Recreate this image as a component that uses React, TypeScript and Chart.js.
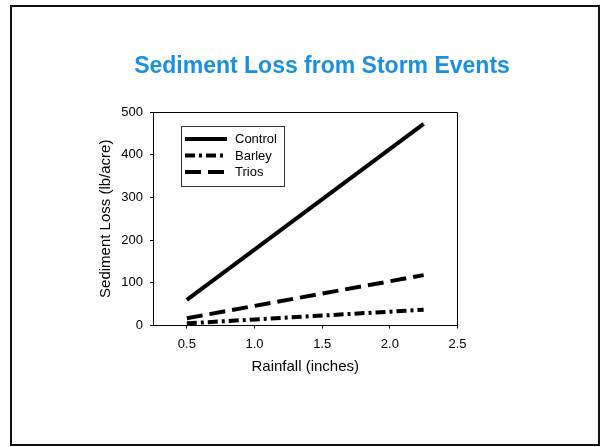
import { useEffect, useRef } from "react";
import { Chart, registerables } from "chart.js";

Chart.register(...registerables);

// ---- data ----
const rainfall = [0.5, 2.25];
const control = [60, 472];
const barley = [5, 37];
const trios = [17, 118];
const seriesNames = ["Control", "Barley", "Trios"];
const xTicks = [0.5, 1.0, 1.5, 2.0, 2.5];
const yTicks = [0, 100, 200, 300, 400, 500];
const chartTitle = "Sediment Loss from Storm Events";
const xTitle = "Rainfall (inches)";
const yTitle = "Sediment Loss (lb/acre)";

const FONT = "'Liberation Sans', Arial, Helvetica, sans-serif";

const toPoints = (ys: number[]) => rainfall.map((x, i) => ({ x, y: ys[i] }));

const decor = {
  id: "decor",
  beforeDraw(chart: any) {
    const { ctx, width, height } = chart;
    ctx.save();
    ctx.fillStyle = "#ffffff";
    ctx.fillRect(0, 0, width, height);
    ctx.restore();
  },
  afterDraw(chart: any) {
    const { ctx, chartArea: a } = chart;
    ctx.save();
    // page frame
    ctx.strokeStyle = "#111111";
    ctx.lineWidth = 2;
    ctx.strokeRect(11, 6, 588, 439);
    // top and right of plot box
    ctx.strokeStyle = "#000000";
    ctx.lineWidth = 1;
    const l = Math.round(a.left) + 0.5;
    const r = Math.round(a.right) - 0.5;
    const t = Math.round(a.top) + 0.5;
    const b = Math.round(a.bottom) - 0.5;
    ctx.beginPath();
    ctx.moveTo(l, t);
    ctx.lineTo(r, t);
    ctx.lineTo(r, b);
    ctx.stroke();
    // legend
    const bx = Math.round(a.left + 28) + 0.5;
    const by = Math.round(a.top + 14) + 0.5;
    ctx.strokeStyle = "#333333";
    ctx.strokeRect(bx, by, 103, 60);
    ctx.font = `13px ${FONT}`;
    ctx.textBaseline = "middle";
    ctx.textAlign = "left";
    chart.data.datasets.forEach((ds: any, i: number) => {
      const y = a.top + 27 + i * 16.5;
      ctx.beginPath();
      ctx.setLineDash(ds.borderDash || []);
      ctx.lineWidth = ds.borderWidth;
      ctx.strokeStyle = ds.borderColor;
      ctx.moveTo(a.left + 32, y);
      ctx.lineTo(a.left + 74, y);
      ctx.stroke();
      ctx.setLineDash([]);
      ctx.fillStyle = "#000000";
      ctx.fillText(ds.label, a.left + 82, y + 0.5);
    });
    ctx.restore();
  },
};

export default function App() {
  const ref = useRef<HTMLCanvasElement>(null);
  useEffect(() => {
    const chart = new Chart(ref.current as HTMLCanvasElement, {
      type: "line",
      data: {
        datasets: [
          {
            label: seriesNames[0],
            data: toPoints(control),
            borderColor: "#000000",
            borderWidth: 4,
            borderDash: [],
          },
          {
            label: seriesNames[1],
            data: toPoints(barley),
            borderColor: "#000000",
            borderWidth: 4,
            borderDash: [10, 4, 3, 4],
          },
          {
            label: seriesNames[2],
            data: toPoints(trios),
            borderColor: "#000000",
            borderWidth: 4,
            borderDash: [16, 7],
          },
        ] as any,
      },
      options: {
        responsive: false,
        animation: false,
        layout: { padding: { left: 42, right: 0, top: 0, bottom: 0 } },
        elements: {
          point: { radius: 0, hoverRadius: 0 },
          line: { tension: 0, borderCapStyle: "butt" },
        },
        plugins: {
          legend: { display: false },
          tooltip: { enabled: false },
          title: {
            display: true,
            text: chartTitle,
            color: "#1b8fe3",
            font: { family: FONT, size: 23, weight: "bold" },
            padding: { top: 53, bottom: 31.4 },
          },
        },
        scales: {
          x: {
            type: "linear",
            min: 0.25,
            max: 2.5,
            afterBuildTicks: (s: any) => {
              s.ticks = xTicks.map((v) => ({ value: v }));
            },
            afterFit: (s: any) => {
              s.height = 121.5;
            },
            ticks: {
              callback: (v: any) => Number(v).toFixed(1),
              color: "#000000",
              font: { family: FONT, size: 13 },
              padding: 8,
              maxRotation: 0,
              autoSkip: false,
            },
            grid: {
              display: true,
              drawOnChartArea: false,
              drawTicks: true,
              tickLength: 3,
              color: "#000000",
            },
            border: { display: true, color: "#000000", width: 1 },
            title: {
              display: true,
              text: xTitle,
              color: "#000000",
              font: { family: FONT, size: 15 },
              padding: { top: 0, bottom: 71 },
            },
          },
          y: {
            type: "linear",
            min: 0,
            max: 500,
            afterBuildTicks: (s: any) => {
              s.ticks = yTicks.map((v) => ({ value: v }));
            },
            afterFit: (s: any) => {
              s.width = 111;
            },
            ticks: {
              color: "#000000",
              font: { family: FONT, size: 13 },
              padding: 7,
            },
            grid: {
              display: true,
              drawOnChartArea: false,
              drawTicks: true,
              tickLength: 3,
              color: "#000000",
            },
            border: { display: true, color: "#000000", width: 1 },
            title: {
              display: true,
              text: yTitle,
              color: "#000000",
              font: { family: FONT, size: 15 },
              padding: { top: 55, bottom: 0 },
            },
          },
          y2: {
            type: "linear",
            position: "right",
            min: 0,
            max: 500,
            ticks: { display: false },
            grid: { display: false },
            border: { display: false },
            afterFit: (s: any) => {
              s.width = 144.5;
            },
          },
        },
      } as any,
      plugins: [decor],
    });
    return () => chart.destroy();
  }, []);
  return (
    <div
      style={{
        position: "absolute",
        left: 0,
        top: 0,
        width: 602,
        height: 447,
        background: "#ffffff",
      }}
    >
      <canvas
        ref={ref}
        width={602}
        height={447}
        style={{ display: "block", width: 602, height: 447 }}
      />
    </div>
  );
}
